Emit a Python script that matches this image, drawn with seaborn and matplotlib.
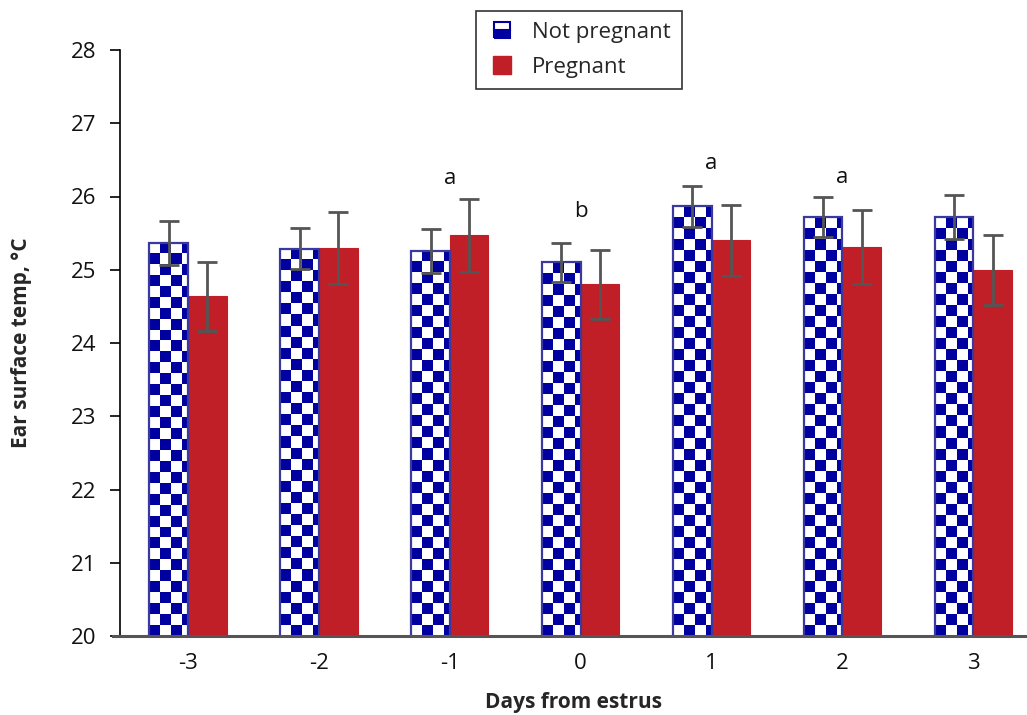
import numpy as np
import pandas as pd
import matplotlib
matplotlib.use("Agg")
import matplotlib.pyplot as plt
from matplotlib.lines import Line2D
import seaborn as sns

days = ["-3", "-2", "-1", "0", "1", "2", "3"]
not_preg = [25.37, 25.29, 25.26, 25.10, 25.87, 25.72, 25.72]
not_preg_err = [0.30, 0.28, 0.30, 0.27, 0.28, 0.27, 0.30]
preg = [24.64, 25.30, 25.47, 24.80, 25.40, 25.31, 25.00]
preg_err = [0.47, 0.49, 0.50, 0.47, 0.49, 0.50, 0.48]
letters = ["", "", "a", "b", "a", "a", ""]
letter_y = [None, None, 26.10, 25.65, 26.31, 26.11, None]

sns.set_style("white")
plt.rcParams["font.family"] = ["Open Sans", "DejaVu Sans"]

df = pd.DataFrame({
    "day": days * 2,
    "temp": not_preg + preg,
    "group": ["Not pregnant"] * 7 + ["Pregnant"] * 7,
})

NAVY = "#0000A0"
RED = "#C01F27"

fig = plt.figure(figsize=(10.27, 7.15), dpi=100)
ax = fig.add_axes([120 / 1027, 1 - 636 / 715, 1 - 120 / 1027, (636 - 50) / 715])

sns.barplot(data=df, x="day", y="temp", hue="group", order=days,
            hue_order=["Not pregnant", "Pregnant"],
            palette={"Not pregnant": "white", "Pregnant": RED},
            errorbar=None, width=0.59, ax=ax, legend=False, saturation=1)

ax.set_ylim(20, 28)
ax.set_xlim(-0.52, 6.41)

np_bars = ax.containers[0]
p_bars = ax.containers[1]

# checkerboard fill for Not pregnant bars
sq_y = 0.15   # data units per square (y)
sq_x = 0.084  # data units per square (x)
cmap = matplotlib.colors.ListedColormap(["white", NAVY])
for rect in np_bars:
    rect.set_edgecolor("#3A3A9E")
    rect.set_linewidth(1.6)
    x0 = rect.get_x()
    w = rect.get_width()
    y1 = rect.get_y() + rect.get_height()
    nx = int(np.ceil(w / sq_x))
    ny = max(1, int(round((y1 - 20) / sq_y)))
    ii, jj = np.meshgrid(np.arange(nx), np.arange(ny))
    board = ((ii + jj) % 2).astype(float)
    img = ax.imshow(board, cmap=cmap, vmin=0, vmax=1,
                    extent=(x0, x0 + nx * sq_x, 20, y1),
                    origin="upper", aspect="auto", interpolation="nearest", zorder=1.5)
    img.set_clip_path(rect)
    rect.set_zorder(2)
    rect.set_facecolor("none")

for rect in p_bars:
    rect.set_edgecolor(RED)
    rect.set_linewidth(0.8)

ax.set_ylim(20, 28)
ax.set_xlim(-0.52, 6.41)

for bars, vals, errs in [(np_bars, not_preg, not_preg_err), (p_bars, preg, preg_err)]:
    xs = [r.get_x() + r.get_width() / 2 for r in bars]
    ax.errorbar(xs, vals, yerr=errs, fmt="none", ecolor="#555555",
                elinewidth=2, capsize=7, capthick=2, zorder=3)

for i, (lab, ly) in enumerate(zip(letters, letter_y)):
    if lab:
        ax.text(i, ly, lab, ha="center", va="bottom", fontsize=16, color="#111111")

ax.set_yticks(range(20, 29))
ax.tick_params(axis="y", direction="out", length=7, width=1.2, labelsize=16,
               color="black", left=True, pad=10, labelcolor="#111111")
ax.tick_params(axis="x", length=0, labelsize=16, pad=12, labelcolor="#111111")
sns.despine(ax=ax, top=True, right=True)
ax.spines["left"].set_color("black")
ax.spines["left"].set_linewidth(1.2)
ax.spines["bottom"].set_color("#555555")
ax.spines["bottom"].set_linewidth(2.2)
ax.spines["bottom"].set_bounds(-0.575, 6.41)
ax.spines["bottom"].set_zorder(5)

ax.set_xlabel("Days from estrus", fontsize=15, fontweight="bold", labelpad=13)
ax.set_ylabel("Ear surface temp, °C", fontsize=15, fontweight="bold", labelpad=28)

handles = [
    Line2D([], [], marker="s", linestyle="", markersize=12, fillstyle="bottom",
           markerfacecolor=NAVY, markerfacecoloralt="white",
           markeredgecolor=NAVY, markeredgewidth=1.5),
    Line2D([], [], marker="s", linestyle="", markersize=13, color=RED),
]
leg = fig.legend(handles, ["Not pregnant", "Pregnant"], loc="upper center",
                 bbox_to_anchor=(579 / 1027, 1.0), frameon=True, fancybox=False,
                 edgecolor="black", fontsize=16, handletextpad=0.7,
                 borderpad=0.5, labelspacing=0.6, handlelength=1.3)
leg.get_frame().set_linewidth(1.2)

fig.savefig("out.png", dpi=100)
